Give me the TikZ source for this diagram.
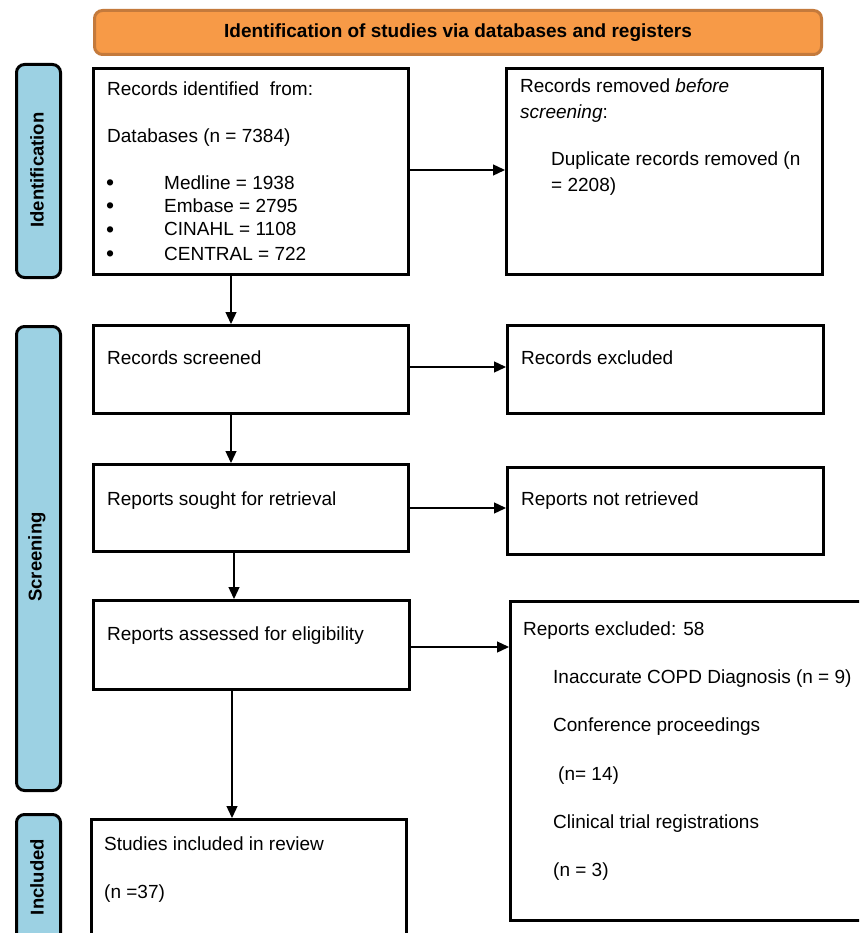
\documentclass[tikz,border=0pt]{standalone}
\usepackage{fontspec}
\setmainfont{Liberation Sans}
\usetikzlibrary{arrows.meta}
\definecolor{hdrfill}{HTML}{F79A47}
\definecolor{hdrline}{HTML}{C47A3C}
\definecolor{barfill}{HTML}{9CD1E3}
\begin{document}
\begin{tikzpicture}[x=1pt,y=-1pt,
  box/.style={draw, line width=3.2pt, anchor=north west, inner sep=0pt},
  bar/.style={draw, line width=3pt, fill=barfill, rounded corners=8pt, anchor=north west, inner sep=0pt},
  txt/.style={anchor=base west, inner sep=0pt, font=\fontsize{19}{22}\selectfont},
  bul/.style={anchor=base west, inner sep=0pt, font=\fontsize{23}{22}\selectfont},
  lbl/.style={rotate=90, font=\bfseries\fontsize{18.5}{22}\selectfont, inner sep=0pt},
  arr/.style={line width=1.3pt, -{Triangle[length=12pt,width=11pt]}}]
\useasboundingbox (0,0) rectangle (859,933);
\fill[white] (0,0) rectangle (859,933);
\clip (0,0) rectangle (859,933);

% header
\node[draw=hdrline, fill=hdrfill, line width=3pt, rounded corners=8pt, anchor=north west,
      minimum width=727pt, minimum height=44pt, inner sep=0pt,
      font=\bfseries\fontsize{19}{22}\selectfont] (hdr) at (93,9)
      {Identification of studies via databases and registers};

% side bars
\node[bar, minimum width=44pt, minimum height=213pt] (barI) at (15,63) {};
\node[bar, minimum width=44pt, minimum height=464pt] (barS) at (15,325) {};
\node[bar, minimum width=44pt, minimum height=160pt] (barN) at (15,813) {};
\node[lbl] (lI) at (37,170) {Identification};
\node[lbl] (lS) at (37,557) {Screening};
\node[lbl] (lN) at (37,877) {Included};

% boxes
\node[box, minimum width=315pt, minimum height=206pt] (b1) at (92,67) {};
\node[box, minimum width=316pt, minimum height=206pt] (b2) at (505,67) {};
\node[box, minimum width=315pt, minimum height=88pt] (b3) at (92,324) {};
\node[box, minimum width=316pt, minimum height=88pt] (b4) at (506,324) {};
\node[box, minimum width=315pt, minimum height=87pt] (b5) at (92,463) {};
\node[box, minimum width=316pt, minimum height=87pt] (b6) at (506,466) {};
\node[box, minimum width=316pt, minimum height=89pt] (b7) at (92,599) {};
\node[box, minimum width=380pt, minimum height=319pt] (b8) at (509,600) {};
\node[box, minimum width=315pt, minimum height=160pt] (b9) at (90,818) {};

% texts box 1
\node[txt] (t1a) at (107,96) {Records identified \ from:};
\node[txt] (t1b) at (107,143) {Databases (n = 7384)};
\node[bul] (u1) at (106,191) {•};
\node[bul] (u2) at (106,214) {•};
\node[bul] (u3) at (106,237) {•};
\node[bul] (u4) at (106,261) {•};
\node[txt] (t1c) at (164,190) {Medline = 1938};
\node[txt] (t1d) at (164,213) {Embase = 2795};
\node[txt] (t1e) at (164,236) {CINAHL = 1108};
\node[txt] (t1f) at (164,260) {CENTRAL = 722};

% box 2
\node[txt] (t2a) at (520,93) {Records removed \textit{before}};
\node[txt] (t2b) at (520,119) {\textit{screening}:};
\node[txt] (t2c) at (551,166) {Duplicate records removed (n};
\node[txt] (t2d) at (551,192) {= 2208)};

% boxes 3-7
\node[txt] (t3) at (107,364) {Records screened};
\node[txt] (t4) at (521,364) {Records excluded};
\node[txt] (t5) at (107,505) {Reports sought for retrieval};
\node[txt] (t6) at (521,505) {Reports not retrieved};
\node[txt] (t7) at (107,640) {Reports assessed for eligibility};

% box 8
\node[txt] (t8a) at (523,635) {Reports excluded: 58};
\node[txt] (t8b) at (553,683) {Inaccurate COPD Diagnosis (n = 9)};
\node[txt] (t8c) at (553,731) {Conference proceedings};
\node[txt] (t8d) at (558,780) {(n= 14)};
\node[txt] (t8e) at (553,828) {Clinical trial registrations};
\node[txt] (t8f) at (553,876) {(n = 3)};

% box 9
\node[txt] (t9a) at (104,850) {Studies included in review};
\node[txt] (t9b) at (104,898) {(n =37)};

% arrows
\draw[arr] (b1.east |- 0,170) -- (b2.west |- 0,170);
\draw[arr] (b3.east |- 0,367) -- (b4.west |- 0,367);
\draw[arr] (b5.east |- 0,508) -- (b6.west |- 0,508);
\draw[arr] (b7.east |- 0,647) -- (b8.west |- 0,647);
\draw[arr] (b1.south -| 231,0) -- (b3.north -| 231,0);
\draw[arr] (b3.south -| 231,0) -- (b5.north -| 231,0);
\draw[arr] (b5.south -| 234,0) -- (b7.north -| 234,0);
\draw[arr] (b7.south -| 232,0) -- (b9.north -| 232,0);
\end{tikzpicture}
\end{document}
